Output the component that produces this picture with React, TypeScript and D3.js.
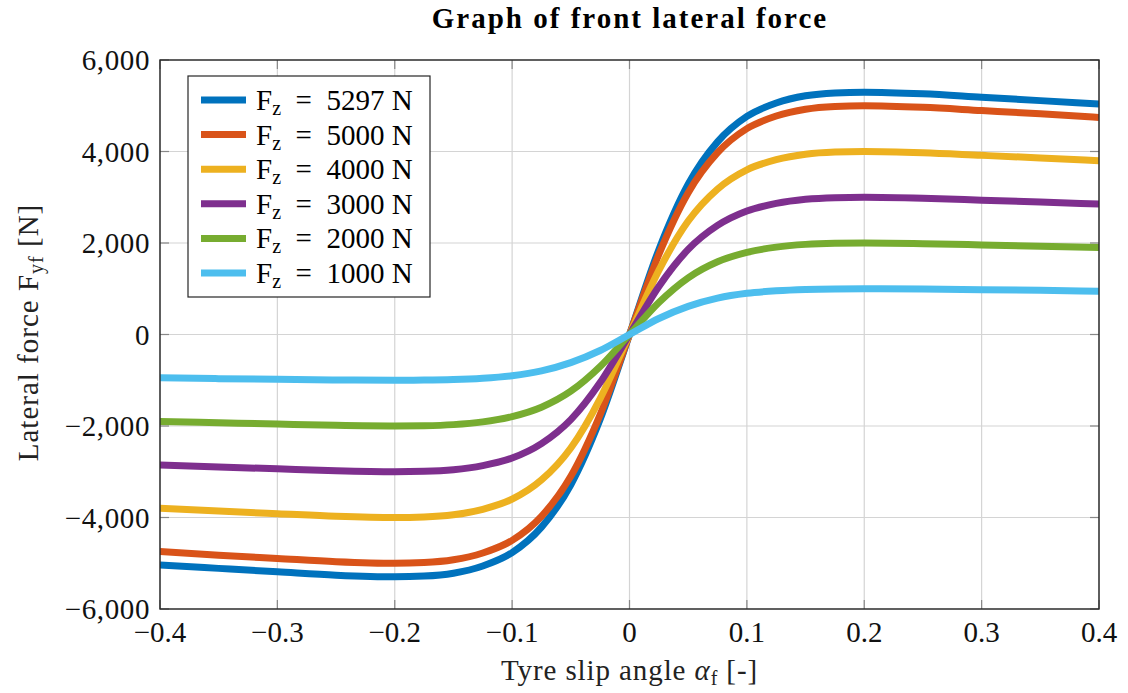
import React from "react";
import * as d3 from "d3";

const slipAngles = [
  -0.4, -0.35, -0.3, -0.25, -0.2, -0.175, -0.15, -0.125, -0.1, -0.075, -0.05, -0.025,
  0, 0.025, 0.05, 0.075, 0.1, 0.125, 0.15, 0.175, 0.2, 0.25, 0.3, 0.35, 0.4,
];

const fz5297 = [
  -5037, -5112, -5186, -5260, -5297, -5281, -5218, -5059, -4767, -4211, -3284, -1854,
  0, 1854, 3284, 4211, 4767, 5059, 5218, 5281, 5297, 5260, 5186, 5112, 5037,
];
const fz5000 = [
  -4745, -4825, -4895, -4965, -5000, -4985, -4925, -4775, -4500, -3975, -3100, -1750,
  0, 1750, 3100, 3975, 4500, 4775, 4925, 4985, 5000, 4965, 4895, 4825, 4745,
];
const fz4000 = [
  -3800, -3860, -3916, -3972, -4000, -3988, -3940, -3820, -3600, -3180, -2480, -1400,
  0, 1400, 2480, 3180, 3600, 3820, 3940, 3988, 4000, 3972, 3916, 3860, 3800,
];
const fz3000 = [
  -2850, -2895, -2937, -2979, -3000, -2991, -2955, -2865, -2700, -2385, -1860, -1050,
  0, 1050, 1860, 2385, 2700, 2865, 2955, 2991, 3000, 2979, 2937, 2895, 2850,
];
const fz2000 = [
  -1900, -1930, -1958, -1986, -2000, -1994, -1970, -1910, -1795, -1590, -1240, -700,
  0, 700, 1240, 1590, 1795, 1910, 1970, 1994, 2000, 1986, 1958, 1930, 1900,
];
const fz1000 = [
  -945, -965, -979, -993, -1000, -997, -985, -955, -900, -795, -615, -350,
  0, 350, 615, 795, 900, 955, 985, 997, 1000, 993, 979, 965, 945,
];

const seriesLoads = ["5297", "5000", "4000", "3000", "2000", "1000"];
const seriesValues = [fz5297, fz5000, fz4000, fz3000, fz2000, fz1000];
const seriesColors = ["#0072BD", "#D95319", "#EDB120", "#7E2F8E", "#77AC30", "#4DBEEE"];

const xTicks = [-0.4, -0.3, -0.2, -0.1, 0, 0.1, 0.2, 0.3, 0.4];
const yTicks = [-6000, -4000, -2000, 0, 2000, 4000, 6000];

const W = 1128;
const H = 693;
const M = { left: 160, right: 1099, top: 60, bottom: 609 };
const FONT = "'Liberation Serif', 'Times New Roman', serif";

export default function App() {
  const x = d3.scaleLinear().domain([-0.4, 0.4]).range([M.left, M.right]);
  const y = d3.scaleLinear().domain([-6000, 6000]).range([M.bottom, M.top]);
  const line = d3
    .line<[number, number]>()
    .x((d) => x(d[0]))
    .y((d) => y(d[1]))
    .curve(d3.curveMonotoneX);

  const fmtX = (v: number) => (v === 0 ? "0" : (v < 0 ? "\u2212" : "") + Math.abs(v).toFixed(1));
  const fmtY = (v: number) => (v < 0 ? "\u2212" : "") + d3.format(",")(Math.abs(v));

  const legendX = 188;
  const legendY = 76;
  const legendW = 242;
  const legendH = 221;
  const rowH = 34.6;

  return (
    <svg
      width={W}
      height={H}
      style={{ position: "absolute", left: 0, top: 0, background: "#fff" }}
      fontFamily={FONT}
    >
      <defs>
        <clipPath id="plotclip">
          <rect x={M.left} y={M.top} width={M.right - M.left} height={M.bottom - M.top} />
        </clipPath>
      </defs>
      <rect x={0} y={0} width={W} height={H} fill="#fff" />
      {/* grid */}
      {xTicks.map((t) => (
        <line key={"gx" + t} x1={x(t)} x2={x(t)} y1={M.top} y2={M.bottom} stroke="#d4d4d4" strokeWidth={1.2} />
      ))}
      {yTicks.map((t) => (
        <line key={"gy" + t} x1={M.left} x2={M.right} y1={y(t)} y2={y(t)} stroke="#d4d4d4" strokeWidth={1.2} />
      ))}
      {/* ticks */}
      {xTicks.map((t) => (
        <g key={"tx" + t}>
          <line x1={x(t)} x2={x(t)} y1={M.bottom} y2={M.bottom - 9} stroke="#888" strokeWidth={1.2} />
          <line x1={x(t)} x2={x(t)} y1={M.top} y2={M.top + 9} stroke="#888" strokeWidth={1.2} />
        </g>
      ))}
      {yTicks.map((t) => (
        <g key={"ty" + t}>
          <line x1={M.left} x2={M.left + 9} y1={y(t)} y2={y(t)} stroke="#888" strokeWidth={1.2} />
          <line x1={M.right} x2={M.right - 9} y1={y(t)} y2={y(t)} stroke="#888" strokeWidth={1.2} />
        </g>
      ))}
      {/* curves */}
      <g clipPath="url(#plotclip)">
        {seriesValues.map((vals, i) => (
          <path
            key={"s" + i}
            d={line(slipAngles.map((a, j) => [a, vals[j]] as [number, number])) || ""}
            fill="none"
            stroke={seriesColors[i]}
            strokeWidth={7}
            strokeLinejoin="round"
          />
        ))}
      </g>
      {/* frame */}
      <rect
        x={M.left}
        y={M.top}
        width={M.right - M.left}
        height={M.bottom - M.top}
        fill="none"
        stroke="#262626"
        strokeWidth={1.4}
      />
      {/* tick labels */}
      {xTicks.map((t) => (
        <text key={"lx" + t} x={x(t)} y={642} textAnchor="middle" fontSize={29} fill="#111">
          {fmtX(t)}
        </text>
      ))}
      {yTicks.map((t) => (
        <text key={"ly" + t} x={150} y={y(t) + 10} textAnchor="end" fontSize={29} fill="#111" letterSpacing={0.6}>
          {fmtY(t)}
        </text>
      ))}
      {/* title */}
      <text x={630} y={28} textAnchor="middle" fontSize={29} fontWeight="bold" letterSpacing={2} fill="#000">
        Graph of front lateral force
      </text>
      {/* x label */}
      <text x={629.5} y={680} textAnchor="middle" fontSize={29} fill="#222" letterSpacing={0.9}>
        Tyre slip angle <tspan fontStyle="italic">α</tspan>
        <tspan fontSize={20} dy={5}>f</tspan>
        <tspan dy={-5}> [-]</tspan>
      </text>
      {/* y label */}
      <text
        transform={`translate(38, ${(M.top + M.bottom) / 2 - 2}) rotate(-90)`}
        textAnchor="middle"
        fontSize={29}
        fill="#222"
        letterSpacing={1}
      >
        Lateral force F<tspan fontSize={20} dy={5}>yf</tspan>
        <tspan dy={-5}> [N]</tspan>
      </text>
      {/* legend */}
      <rect x={legendX} y={legendY} width={legendW} height={legendH} fill="#fff" stroke="#262626" strokeWidth={1.2} />
      {seriesLoads.map((load, i) => {
        const cy = legendY + 24 + i * rowH;
        return (
          <g key={"lg" + i}>
            <line x1={201} x2={246} y1={cy} y2={cy} stroke={seriesColors[i]} strokeWidth={7} />
            <text x={256} y={cy + 10} fontSize={29} fill="#000">
              F<tspan fontSize={20} dy={5}>z</tspan>
              <tspan dy={-5}>{"\u2002=\u2002" + load + " N"}</tspan>
            </text>
          </g>
        );
      })}
    </svg>
  );
}
